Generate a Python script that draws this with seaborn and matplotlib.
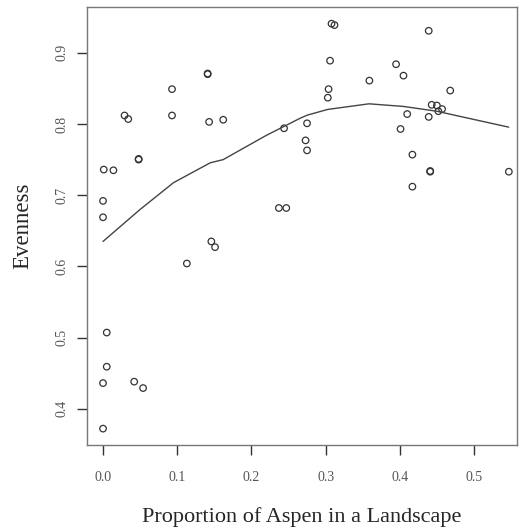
import matplotlib
matplotlib.use("Agg")
import matplotlib.pyplot as plt
import seaborn as sns
import pandas as pd

# proportion of aspen vs evenness
aspen = [0.141, 0.141, 0.093, 0.029, 0.034, 0.093, 0.143, 0.162, 0.244,
         0.048, 0.048, 0.001, 0.014, 0.000, 0.000, 0.237, 0.247, 0.146, 0.151,
         0.113, 0.005, 0.005, 0.000, 0.042, 0.054, 0.000,
         0.308, 0.312, 0.439, 0.306, 0.395, 0.405, 0.359, 0.304, 0.468, 0.303,
         0.443, 0.450, 0.457, 0.452, 0.410, 0.439, 0.275, 0.401, 0.273, 0.275,
         0.417, 0.441, 0.441, 0.547, 0.417]
evenness = [0.871, 0.870, 0.849, 0.812, 0.807, 0.812, 0.803, 0.806, 0.794,
            0.750, 0.751, 0.736, 0.735, 0.692, 0.669, 0.682, 0.682, 0.635, 0.627,
            0.604, 0.507, 0.459, 0.436, 0.438, 0.429, 0.372,
            0.941, 0.939, 0.931, 0.889, 0.884, 0.868, 0.861, 0.849, 0.847, 0.837,
            0.827, 0.826, 0.821, 0.818, 0.814, 0.810, 0.801, 0.793, 0.777, 0.763,
            0.757, 0.733, 0.734, 0.733, 0.712]

# smoothed trend line vertices
trend_x = [0.000, 0.050, 0.095, 0.1445, 0.162, 0.220, 0.2655, 0.2753, 0.3028,
           0.3585, 0.405, 0.4497, 0.5468]
trend_y = [0.635, 0.680, 0.7176, 0.7455, 0.750, 0.784, 0.808, 0.8125, 0.8205,
           0.8284, 0.8247, 0.818, 0.7956]

df = pd.DataFrame({"aspen": aspen, "evenness": evenness})
trend = pd.DataFrame({"x": trend_x, "y": trend_y})

sns.set_style("white")
plt.rcParams["font.family"] = ["Liberation Serif", "DejaVu Serif"]

fig = plt.figure(figsize=(5.19, 5.31), dpi=100)
ax = fig.add_axes([87 / 519, 1 - 445 / 531, 430 / 519, 437.7 / 531])

sns.scatterplot(data=df, x="aspen", y="evenness", ax=ax, marker="o",
                facecolor="none", edgecolor="#333333", linewidth=0.9, s=22)
sns.lineplot(data=trend, x="x", y="y", ax=ax, color="#444444", linewidth=1.0,
             sort=True, estimator=None)

ax.set_xlim(-0.0216, 0.558)
ax.set_ylim(0.349, 0.964)
ax.set_xticks([0.0, 0.1, 0.2, 0.3, 0.4, 0.5])
ax.set_yticks([0.4, 0.5, 0.6, 0.7, 0.8, 0.9])
ax.set_xticklabels(["0.0", "0.1", "0.2", "0.3", "0.4", "0.5"])
ax.set_yticklabels(["0.4", "0.5", "0.6", "0.7", "0.8", "0.9"],
                   rotation=90, va="center")

for s in ax.spines.values():
    s.set_color("#777777")
    s.set_linewidth(1.0)

ax.tick_params(axis="both", direction="out", length=7, width=1.0,
               color="#333333", labelsize=10, labelcolor="#555555")
ax.tick_params(axis="x", pad=12)
ax.tick_params(axis="y", pad=6)
ax.tick_params(left=True, bottom=True)

ax.set_xlabel("Proportion of Aspen in a Landscape", fontsize=16, labelpad=16)
ax.set_ylabel("Evenness", fontsize=16.5, labelpad=16)

fig.savefig("out.png", dpi=100)
